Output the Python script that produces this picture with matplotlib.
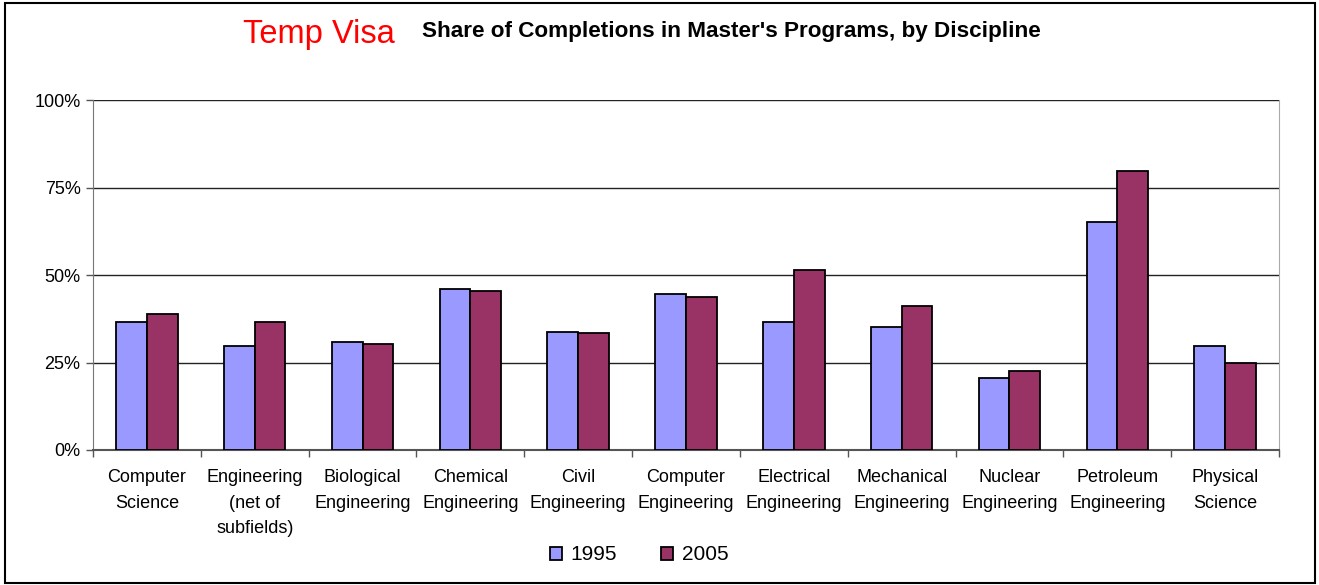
import numpy as np
import matplotlib.pyplot as plt
from matplotlib.patches import Rectangle

plt.rcParams['font.family'] = ['Liberation Sans', 'DejaVu Sans']

# data
categories = ['Computer\nScience', 'Engineering\n(net of\nsubfields)', 'Biological\nEngineering',
              'Chemical\nEngineering', 'Civil\nEngineering', 'Computer\nEngineering',
              'Electrical\nEngineering', 'Mechanical\nEngineering', 'Nuclear\nEngineering',
              'Petroleum\nEngineering', 'Physical\nScience']
share_1995 = [36.7, 29.8, 30.9, 45.9, 33.7, 44.6, 36.7, 35.2, 20.5, 65.1, 29.8]
share_2005 = [38.8, 36.7, 30.4, 45.4, 33.3, 43.6, 51.4, 41.1, 22.6, 79.7, 24.9]
yticks = [0, 25, 50, 75, 100]
ytick_labels = ['0%', '25%', '50%', '75%', '100%']

fig = plt.figure(figsize=(13.19, 5.85), dpi=100)
ax = fig.add_axes([93 / 1319, 135 / 585, (1279 - 93) / 1319, 350 / 585])

x = np.arange(len(categories))
w = 0.285
ax.bar(x - w / 2, share_1995, w, color='#9999FF', edgecolor='black', linewidth=1.3, label='1995', zorder=3)
ax.bar(x + w / 2, share_2005, w, color='#993366', edgecolor='black', linewidth=1.3, label='2005', zorder=3)

ax.set_xlim(-0.5, len(categories) - 0.5)
ax.set_ylim(0, 100)
ax.set_yticks(yticks)
ax.set_yticklabels(ytick_labels, fontsize=13)
ax.set_xticks(x)
ax.set_xticklabels(categories, fontsize=13, linespacing=1.62, va='top')
ax.tick_params(axis='x', length=0, pad=14)
ax.set_xticks(np.arange(-0.5, len(categories)), minor=True)
ax.tick_params(axis='x', which='minor', length=5, width=1, color='#555555', direction='out')
ax.tick_params(axis='y', length=5, width=1, color='#555555', direction='out', pad=4)

ax.yaxis.grid(True, color='#222222', linewidth=1)
ax.set_axisbelow(True)
ax.spines['top'].set_visible(False)
ax.spines['left'].set_color('#777777')
ax.spines['bottom'].set_color('#555555')
ax.spines['bottom'].set_linewidth(1.5)
ax.spines['right'].set_color('#aaaaaa')

fig.text(243 / 1319, 1 - 35 / 585, 'Temp Visa', color='red', fontsize=23.5, va='center', ha='left')
fig.text(422 / 1319, 1 - 32 / 585, "Share of Completions in Master's Programs, by Discipline",
         fontsize=16.2, fontweight='bold', va='center', ha='left')

ax.legend(loc='center', bbox_to_anchor=(639 / 1319, 1 - 555 / 585), bbox_transform=fig.transFigure,
          ncol=2, frameon=False, fontsize=15, handlelength=0.58, handleheight=0.58,
          handletextpad=0.42, columnspacing=2.1, borderpad=0)

fig.patches.append(Rectangle((5 / 1319, 2 / 585), 1310 / 1319, 580 / 585, transform=fig.transFigure,
                             fill=False, edgecolor='black', linewidth=1.5))

fig.savefig('out.png', dpi=100)
